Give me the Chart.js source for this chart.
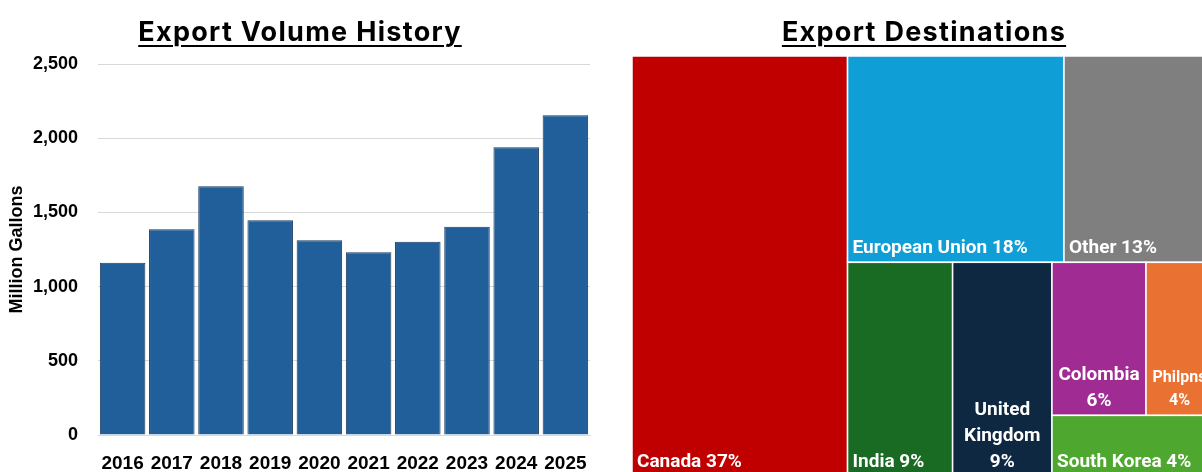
<!DOCTYPE html>
<html>
<head>
<meta charset="utf-8">
<script src="https://cdn.jsdelivr.net/npm/chart.js@4.4.1/dist/chart.umd.min.js"></script>
<style>
  html, body { margin: 0; padding: 0; overflow: hidden; background: #fff; }
  #page { position: relative; width: 1202px; height: 472px; overflow: hidden; }
  .title {
    position: absolute; top: 15px; line-height: 30px;
    font: bold 27px Inter, 'Liberation Sans', sans-serif; letter-spacing: 1.3px;
    text-decoration: underline; text-decoration-thickness: 2px; text-underline-offset: 4px;
    text-align: center; color: #000;
  }
  #volumeBox { position: absolute; left: 0; top: 0; width: 600px; height: 472px; }
  #destBox { position: absolute; left: 632px; top: 0; width: 581px; height: 476px; }
</style>
</head>
<body>
<div id="page">
  <div id="volumeBox"><canvas id="volumeChart"></canvas></div>
  <div id="destBox"><canvas id="destChart"></canvas></div>
  <div class="title" style="left:0; width:600px;">Export Volume History</div>
  <div class="title" style="left:632px; width:584px;">Export Destinations</div>
</div>
<script>
// volume history (million gallons)
const years = ['2016', '2017', '2018', '2019', '2020', '2021', '2022', '2023', '2024', '2025'];
const volumes = [1160, 1387, 1677, 1447, 1313, 1232, 1303, 1404, 1939, 2155];

// export destinations, share of volume in %
const destNames = ['Canada', 'European Union', 'Other', 'India', 'United Kingdom', 'Colombia', 'Philpns', 'South Korea'];
const destShares = [37.1, 18.3, 12.6, 9.2, 8.7, 5.9, 4.2, 4.0];

const destColors = ['#C00000', '#0F9ED5', '#7F7F7F', '#196B24', '#0E2841', '#A02B93', '#E97132', '#4EA72E'];
// how the treemap groups the cells (indices into destNames), split direction alternates per level
const destLayout = [0, [[1, 2], [3, 4, [[5, 6], 7]]]];

const axisFont = 'Liberation Sans';

new Chart(document.getElementById('volumeChart'), {
  type: 'bar',
  data: {
    labels: years,
    datasets: [{
      data: volumes,
      backgroundColor: '#215F9A',
      borderColor: '#1A3A5C',
      borderWidth: 1,
      barPercentage: 0.925,
      categoryPercentage: 1,
    }],
  },
  options: {
    responsive: true,
    maintainAspectRatio: false,
    animation: false,
    layout: { padding: { top: 64, right: 10, left: 0, bottom: 0 } },
    plugins: { legend: { display: false }, tooltip: { enabled: false } },
    scales: {
      x: {
        // tickLength gives the gap under the axis, grid itself is hidden
        grid: { display: false, drawTicks: true, tickLength: 16 },
        border: { color: '#d9d9d9' },
        ticks: { color: '#000', padding: 3, maxRotation: 0, font: { family: axisFont, weight: 'bold', size: 19, lineHeight: 1 } },
        afterFit: (scale) => { scale.height = 37; },
      },
      y: {
        min: 0,
        max: 2500,
        grid: { color: '#d9d9d9', drawTicks: false },
        border: { display: false },
        ticks: {
          stepSize: 500,
          padding: 20,
          color: '#000',
          font: { family: axisFont, weight: 'bold', size: 18 },
          callback: (v) => v.toLocaleString('en-US'),
        },
        title: {
          display: true,
          text: 'Million Gallons',
          color: '#000',
          font: { family: axisFont, weight: 'bold', size: 18 },
          padding: { top: 6, bottom: 8 },
        },
        afterFit: (scale) => { scale.width = 98; },
      },
    },
  },
});

function shareOf(node) {
  return typeof node === 'number' ? destShares[node] : node.reduce((s, n) => s + shareOf(n), 0);
}

function layoutNode(node, x0, y0, x1, y1, horizontal, out) {
  if (typeof node === 'number') {
    out.push({ i: node, x0, y0, x1, y1 });
    return;
  }
  const total = shareOf(node);
  let pos = horizontal ? x0 : y0;
  node.forEach((child) => {
    const part = shareOf(child) / total;
    if (horizontal) {
      const next = pos + (x1 - x0) * part;
      layoutNode(child, pos, y0, next, y1, false, out);
      pos = next;
    } else {
      const next = pos + (y1 - y0) * part;
      layoutNode(child, x0, pos, x1, next, true, out);
      pos = next;
    }
  });
}

function drawCellLabel(ctx, text, l, t, r, b) {
  const pad = 5;
  const avail = r - l - 2 * pad;
  let size = 19;
  ctx.fillStyle = '#fff';
  ctx.textBaseline = 'middle';
  ctx.font = `bold ${size}px Roboto`;
  if (ctx.measureText(text).width <= avail) {
    ctx.textAlign = 'left';
    ctx.fillText(text, l + pad, b - 14);
    return;
  }
  const words = text.split(' ');
  const widest = Math.max(...words.map((w) => ctx.measureText(w).width));
  if (widest > avail) {
    size = Math.floor(size * avail / widest);
    ctx.font = `bold ${size}px Roboto`;
  }
  const lines = [];
  let line = '';
  words.forEach((w) => {
    const test = line ? line + ' ' + w : w;
    if (line && ctx.measureText(test).width > avail) {
      lines.push(line);
      line = w;
    } else {
      line = test;
    }
  });
  lines.push(line);
  const step = 26 * Math.min(1, size / 18);
  ctx.textAlign = 'center';
  lines.forEach((ln, k) => {
    ctx.fillText(ln, (l + r) / 2, b - 14 - (lines.length - 1 - k) * step);
  });
}

const treemapPlugin = {
  id: 'treemapCells',
  afterDatasetsDraw(chart) {
    const { ctx, scales: { x, y } } = chart;
    const cells = [];
    layoutNode(destLayout, 0, 0, 100, 100, true, cells);
    ctx.save();
    cells.forEach((c) => {
      const l = x.getPixelForValue(c.x0);
      const r = x.getPixelForValue(c.x1);
      const t = y.getPixelForValue(c.y0);
      const b = y.getPixelForValue(c.y1);
      ctx.fillStyle = destColors[c.i];
      ctx.fillRect(l, t, r - l, b - t);
      ctx.strokeStyle = '#fff';
      ctx.lineWidth = 1.5;
      ctx.strokeRect(l, t, r - l, b - t);
      drawCellLabel(ctx, destNames[c.i] + ' ' + Math.round(destShares[c.i]) + '%', l, t, r, b);
    });
    ctx.restore();
  },
};

new Chart(document.getElementById('destChart'), {
  type: 'scatter',
  data: { datasets: [{ data: [] }] },
  options: {
    responsive: true,
    maintainAspectRatio: false,
    animation: false,
    layout: { padding: { top: 56, right: 0, left: 0, bottom: 0 } },
    plugins: { legend: { display: false }, tooltip: { enabled: false } },
    scales: {
      x: { type: 'linear', min: 0, max: 100, display: false },
      y: { type: 'linear', min: 0, max: 100, reverse: true, display: false },
    },
  },
  plugins: [treemapPlugin],
});
</script>
</body>
</html>
